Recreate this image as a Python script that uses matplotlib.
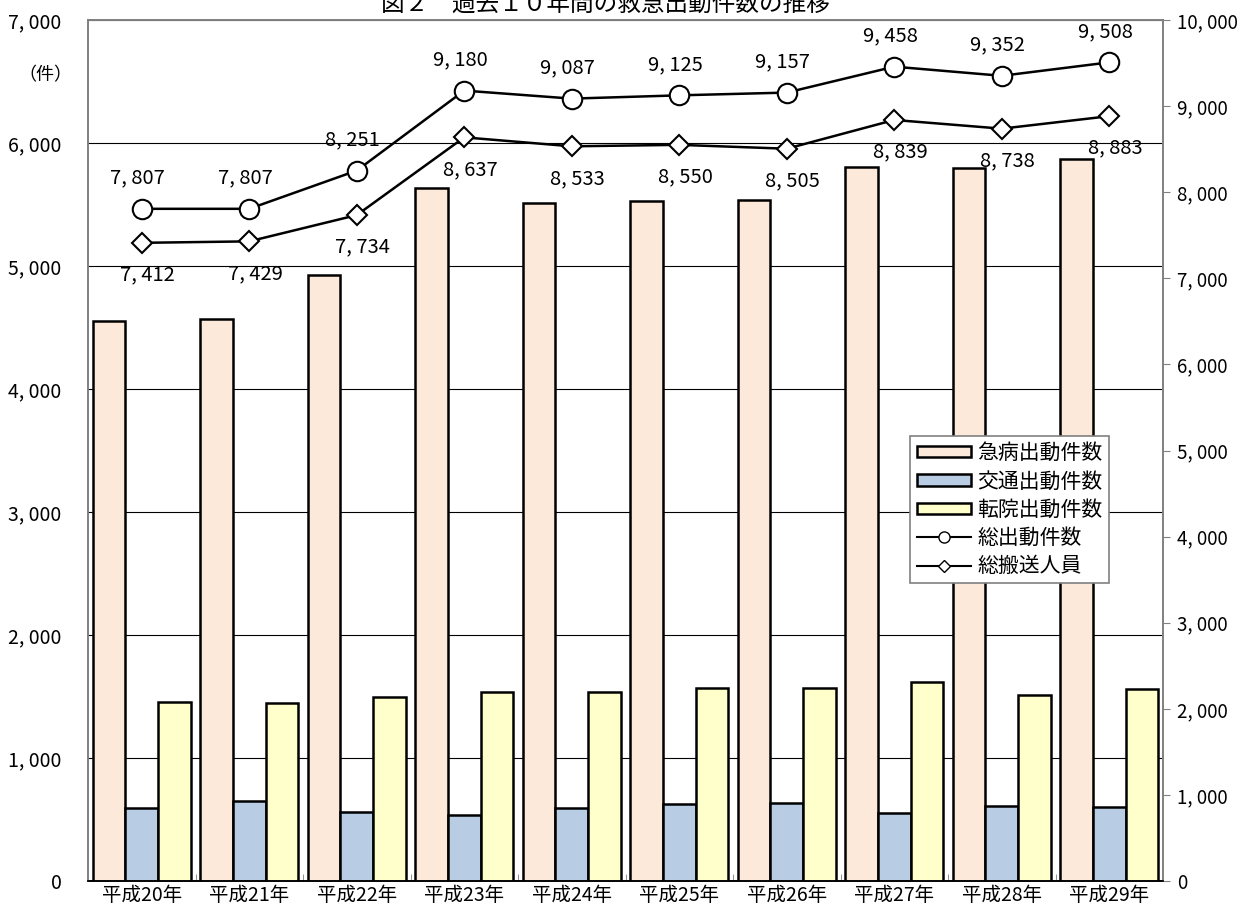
import numpy as np
import matplotlib
matplotlib.use("Agg")
import matplotlib.pyplot as plt
from matplotlib.ticker import FuncFormatter, MultipleLocator
from matplotlib.patches import Patch
from matplotlib.lines import Line2D

plt.rcParams['font.family'] = ['Noto Sans CJK JP', 'DejaVu Sans']

# データ
nendo = ['平成20年', '平成21年', '平成22年', '平成23年', '平成24年',
         '平成25年', '平成26年', '平成27年', '平成28年', '平成29年']
kyubyo = [4555, 4567, 4927, 5634, 5512, 5528, 5539, 5807, 5794, 5872]
kotsu = [595, 652, 560, 533, 593, 625, 636, 552, 612, 603]
tenin = [1456, 1445, 1497, 1540, 1534, 1572, 1570, 1616, 1510, 1559]
so_shutsudo = [7807, 7807, 8251, 9180, 9087, 9125, 9157, 9458, 9352, 9508]
so_hanso = [7412, 7429, 7734, 8637, 8533, 8550, 8505, 8839, 8738, 8883]

titulo = '図２　過去１０年間の救急出動件数の推移'


def fmt(v):
    return f"{int(v):,}".replace(",", ", ")


fig = plt.figure(figsize=(12.4, 9.13), dpi=100)
ax = fig.add_axes([88 / 1240, 32 / 913, 1075 / 1240, 861 / 913])
ax2 = ax.twinx()

x = np.arange(len(nendo))
w = 0.303
ax.bar(x - w, kyubyo, w, color='#FDE9D9', edgecolor='black', linewidth=1.8, zorder=3)
ax.bar(x, kotsu, w, color='#B8CCE4', edgecolor='black', linewidth=1.8, zorder=3)
ax.bar(x + w, tenin, w, color='#FFFFCC', edgecolor='black', linewidth=1.8, zorder=3)

ax.set_xlim(-0.5, len(nendo) - 0.5)
ax.set_ylim(0, 7000)
ax.yaxis.set_major_locator(MultipleLocator(1000))
ax.yaxis.set_major_formatter(FuncFormatter(lambda v, p: fmt(v)))
ax.grid(axis='y', color='black', linewidth=0.8, zorder=0)
ax.set_axisbelow(True)
ax.tick_params(axis='y', length=0, pad=19, labelsize=14)
ax.set_xticks(x)
ax.set_xticklabels(nendo, fontsize=14)
ax.tick_params(axis='x', length=0, pad=3)
ax.set_xticks(np.arange(0.5, len(nendo) - 1, 1), minor=True)
ax.tick_params(axis='x', which='minor', direction='in', length=5, color='#808080')

# 折れ線（右軸）
ax2.plot(x, so_shutsudo, color='black', linewidth=1.8, marker='o', markersize=14,
         markerfacecolor='white', markeredgecolor='black', markeredgewidth=1.5, zorder=5)
ax2.plot(x, so_hanso, color='black', linewidth=1.8, marker='D', markersize=10,
         markerfacecolor='white', markeredgecolor='black', markeredgewidth=1.5, zorder=5)
ax2.set_ylim(0, 10000)
ax2.yaxis.set_major_locator(MultipleLocator(1000))
ax2.yaxis.set_major_formatter(FuncFormatter(lambda v, p: fmt(v)))
ax2.tick_params(axis='y', length=5, color='#808080', pad=5, labelsize=13.5)

for xi, v in zip(x, so_shutsudo):
    ax2.annotate(fmt(v), (xi, v), xytext=(-4, 31), textcoords='offset pixels',
                 ha='center', va='center', fontsize=14.5)
for xi, v in zip(x, so_hanso):
    ax2.annotate(fmt(v), (xi, v), xytext=(6, -32), textcoords='offset pixels',
                 ha='center', va='center', fontsize=14.5)

for a in (ax, ax2):
    for s in ('top', 'right', 'left'):
        a.spines[s].set_color('#808080')
        a.spines[s].set_linewidth(1.2)
    a.spines['bottom'].set_color('black')
    a.spines['bottom'].set_linewidth(1.2)

handles = [
    Patch(facecolor='#FDE9D9', edgecolor='black', linewidth=1.8, label='急病出動件数'),
    Patch(facecolor='#B8CCE4', edgecolor='black', linewidth=1.8, label='交通出動件数'),
    Patch(facecolor='#FFFFCC', edgecolor='black', linewidth=1.8, label='転院出動件数'),
    Line2D([], [], color='black', linewidth=1.5, marker='o', markersize=8,
           markerfacecolor='white', label='総出動件数'),
    Line2D([], [], color='black', linewidth=1.5, marker='D', markersize=6,
           markerfacecolor='white', label='総搬送人員'),
]
leg = ax2.legend(handles=handles, loc='upper left', bbox_to_anchor=(0.765, 0.517),
                 fontsize=15, frameon=True, fancybox=False, edgecolor='#808080',
                 handlelength=2.6, handleheight=0.45, labelspacing=0.3,
                 borderpad=0.3, borderaxespad=0, handletextpad=0.3, framealpha=1)
leg.get_frame().set_linewidth(1.2)

fig.text(45 / 1240, 1 - 75 / 913, '（件）', ha='center', va='center', fontsize=13)
fig.text(605 / 1240, 1 - 4 / 913, titulo, ha='center', va='center', fontsize=17)

fig.savefig('out.png', dpi=100)
